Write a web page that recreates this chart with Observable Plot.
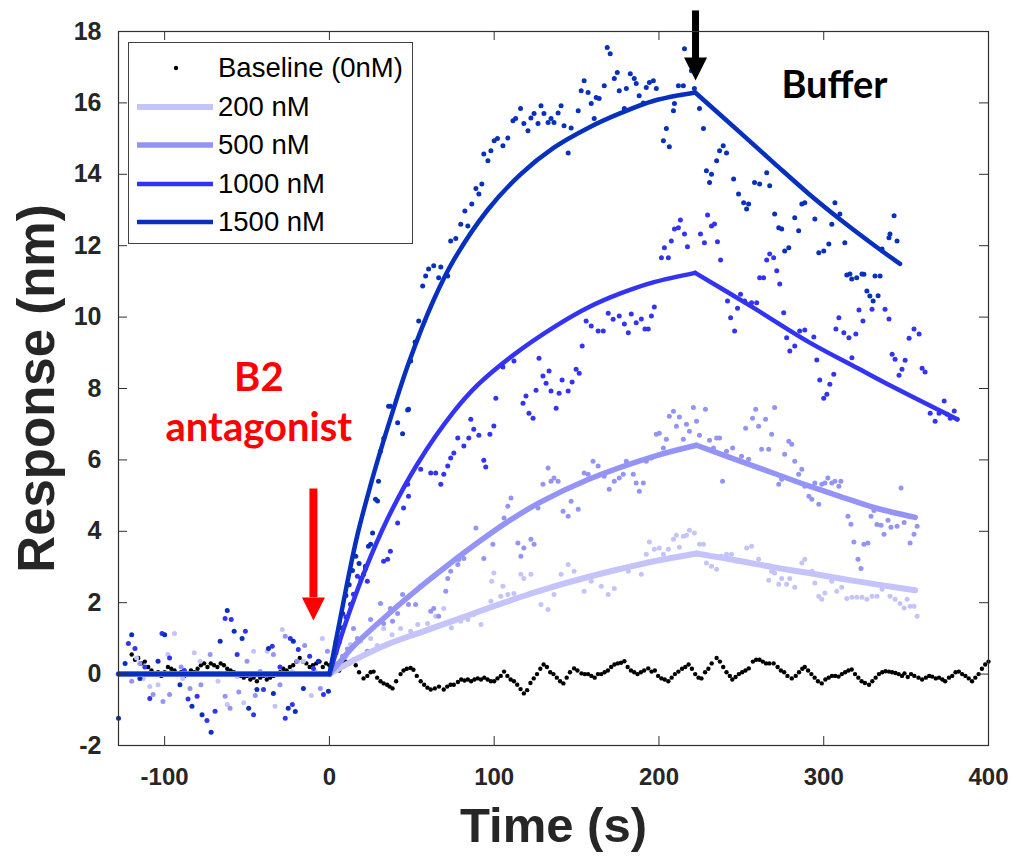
<!DOCTYPE html>
<html><head><meta charset="utf-8">
<script src="https://cdn.jsdelivr.net/npm/d3@7"></script>
<script src="https://cdn.jsdelivr.net/npm/@observablehq/plot@0.6"></script>
<style>
body{margin:0;background:#fff;}
#wrap{position:relative;width:1013px;height:858px;}
#legend{position:absolute;left:128px;top:42px;width:285px;height:202px;border:1px solid #404040;background:#fff;font-family:"Liberation Sans",Arial,sans-serif;font-size:27.5px;color:#000;box-sizing:border-box;}
.row{position:absolute;left:0;height:30px;display:flex;align-items:center;white-space:nowrap;}
.row span{position:absolute;left:89px;top:-1px;}
</style>
</head><body><div id="wrap"><div id="chart"></div><div id="legend"></div></div>
<script>
// ---- ticks ----
const xTicks = [-100, 0, 100, 200, 300, 400];
const yTicks = [-2, 0, 2, 4, 6, 8, 10, 12, 14, 16, 18];

// ---- series names / colours ----
const seriesNames = ["Baseline (0nM)", "200 nM", "500 nM", "1000 nM", "1500 nM"];
const seriesColors = ["#000000", "#c4c4fa", "#9494f6", "#3333f4", "#0630bd"];

// ---- baseline (0 nM) dots [t, response] ----
const dots0 = [[-120,0.55],[-118,0.4],[-116,0.45],[-114,0.3],[-112,0.35],[-110,0.2],[-108,0.1],[-106,0.0],[-104,0.05],[-102,-0.05],[-100,0.05],[-98,0.2],[-96,0.15],[-94,0.1],[-92,0.0],[-90,0.05],[-88,-0.05],[-86,0.0],[-84,0.1],[-82,0.05],[-80,0.15],[-78,0.25],[-76,0.3],[-74,0.2],[-72,0.3],[-70,0.25],[-68,0.2],[-66,0.3],[-64,0.25],[-62,0.15],[-60,0.1],[-58,0.05],[-56,0.0],[-54,-0.05],[-52,-0.1],[-50,-0.05],[-48,-0.15],[-46,-0.1],[-44,-0.2],[-42,-0.1],[-40,-0.05],[-38,-0.15],[-36,-0.1],[-34,-0.05],[-32,0.0],[-30,0.05],[-28,0.15],[-26,0.1],[-24,0.2],[-22,0.25],[-20,0.35],[-18,0.45],[-16,0.35],[-14,0.3],[-12,0.2],[-10,0.25],[-8,0.3],[-6,0.35],[-4,0.2],[-2,0.3],[0,0.25],[2,0.36],[4,0.2],[6,0.1],[8,0.3],[10,0.35],[12,0.3],[14.6,0.4],
[16,0.25],[18,0.05],[20.7,-0.12],[23,-0.05],[25,0.05],[26.8,0.07],[29,-0.1],[31,-0.2],[32.9,-0.26],[35,-0.3],[36.5,-0.35],[38.3,-0.4],[40.5,-0.2],[43.2,0.0],[45,0.1],[47,0.15],[49.3,0.17],[51,0.12],[53,-0.05],[55.4,-0.2],[57.5,-0.3],[59.5,-0.38],[61.5,-0.43],[64,-0.4],[66.5,-0.35],[69.4,-0.43],[71.5,-0.35],[73.5,-0.3],[75.5,-0.3],[78,-0.22],[80,-0.15],[82,-0.18],[84,-0.15],[86,-0.2],[88,-0.15],[90,-0.12],[92,-0.15],[94,-0.1],[96,-0.15],[98,-0.2],[100,-0.2],[102,-0.12],[104,-0.05],[106,0.07],[108,-0.05],[110,-0.15],[112,-0.2],[114,-0.3],[116,-0.42],[118,-0.54],[120,-0.45],[122,-0.25],[124,-0.12],[126,0.0],[128,0.15],[130,0.27],[132,0.2],[134,0.05],[136,0.0],[138,-0.1],[140,-0.2],[142,-0.26],[144,-0.1],[146,0.05],[148.5,0.16],[150.5,0.1],[153,0.02],[155,0.0],[157,0.0],[159,-0.05],[161,-0.1],[163,0.0],[165,0.0],[167,0.05],[169,0.1],[171,0.2],[173,0.27],[175,0.3],[177,0.32],[179,0.36],[181,0.2],[183,0.1],[185,0.05],[187,0.0],[189,0.05],[191,0.1],[193.5,0.16],[195.5,0.07],[197.5,0.1],[199.5,-0.05],[201.5,-0.12],[203.5,-0.15],[205.7,-0.2],[207.7,-0.1],[209.7,0.0],[211.8,0.07],[214,0.15],[216,0.2],[218,0.27],[220,0.15],[222,0.0],[224,-0.1],[225.8,-0.12],[228,0.05],[230,0.15],[232,0.3],[235,0.45],[237,0.35],[239,0.2],[241,0.05],[243,-0.05],[244.5,-0.15],[246.5,-0.08],[248.5,0.0],[250.5,0.05],[252.5,0.1],[254.5,0.16],[257,0.35],[259,0.4],[261,0.4],[263,0.35],[265,0.3],[267,0.3],[269.6,0.3],[272,0.2],[274,0.1],[276,0.05],[278,-0.05],[280.6,-0.12],[283,-0.05],[285,0.05],[287,0.15],[288.5,0.2],[290.5,0.1],[292.5,0.0],[294.5,-0.1],[296.5,-0.2],[298.8,-0.26],[301,-0.15],[303,-0.1],[305,-0.05],[307,-0.05],[309,-0.07],[311,0.0],[313,0.05],[315,0.1],[317,0.13],[319,0.0],[321,-0.1],[323,-0.2],[325,-0.25],[327.5,-0.3],[329.5,-0.2],[331.5,-0.1],[333.5,0.0],[335.5,0.05],[337.5,0.08],[339.6,0.07],[341.5,0.05],[343.5,0.03],[345.5,0.0],[347.5,-0.05],[349,0.02],[351,-0.08],[353,0.0],[355,-0.05],[357.5,-0.1],[359.7,-0.15],[362,-0.1],[364,-0.05],[365.8,-0.07],[368,-0.12],[370,-0.1],[372,-0.15],[373.7,-0.2],[376,-0.1],[378,-0.05],[380,0.05],[382,0.07],[384,0.0],[386,-0.05],[388,-0.12],[390,-0.2],[392,-0.1],[394,0.0],[396,0.15],[398,0.27],[400,0.35]];

// ---- 200 nM dots ----
const dots200 = [[-117,0.45],[-113,-0.12],[-109,-0.35],[-104,-0.3],[-98,0.55],[-94,1.14],[-89,-0.12],[-82,0.6],[-78.5,0.36],[-67.6,-0.2],[-62,-0.85],[-56,-0.07],[-52,-0.8],[-46,0.64],[-37.7,0.64],[-33,-0.9],[-28.6,1.25],[-22.5,0.07],[-15.8,0.36],[-11,-0.6],[-8.5,0.07],[-4.3,1.0],
[3,0.2],[6.7,0.36],[10,0.5],[12.8,0.83],[18.9,0.92],[25,1.0],[29,0.8],[32.9,1.28],[38,1.1],[43.2,1.28],[49.3,1.2],[53.6,1.39],[59.6,1.42],[64.5,1.62],[69.4,1.84],[74,1.3],[79.7,1.48],[84,1.53],[87.6,1.67],[92,1.39],[98,2.04],[98.5,2.6],[99.8,2.83],[104,2.18],[105.3,2.46],[108.3,2.23],[112,2.26],[116.2,2.8],[118,2.68],[122.3,2.8],[128.4,1.95],[132.7,1.81],[136.3,2.23],[140.6,2.8],[144.9,3.07],[148.5,2.88],[154.6,2.32],[158.9,2.6],[165,2.46],[169.2,2.23],[172.9,2.4],[181.4,2.88],[189.3,2.8],[192.3,3.36],[194.2,3.7],[197.2,3.5],[200.2,3.53],[202.7,3.36],[205.7,3.5],[208.8,3.78],[210.6,3.89],[212.4,3.55],[214.8,3.86],[216.7,3.89],[218.5,4.03],[221.5,3.95],
[224.6,3.64],[227,3.64],[228.8,3.11],[231.9,3.02],[235,2.94],[238,3.3],[241,3.36],[244,3.36],[247.1,3.16],[253.2,3.53],[256.2,3.58],[260.5,3.22],[266.6,2.63],[268.4,2.88],[270.2,2.83],[272.7,2.52],[274.5,2.68],[277.5,2.52],[279.4,2.68],[282.4,2.43],[286.7,3.11],[288.5,3.22],[292.8,2.88],[294.6,2.55],[297,2.18],[298.8,2.1],[300.7,2.27],[304.9,2.6],[307.9,2.32],[310.9,2.43],[314,2.12],[317.1,2.15],[320.1,2.15],[323.2,2.15],[326.2,2.1],[329.3,2.18],[332.3,2.18],[335.4,2.38],[340.2,2.18],[343.3,2.1],[346.3,1.98],[348.8,1.85],[350.6,2.1],[352.4,1.9],[354.8,1.9],[356.7,1.62]];

// ---- 500 nM dots ----
const dots500 = [[-120,-0.2],[-115,0.3],[-107,-0.57],[-101,-0.77],[-97,-0.57],[-90,0.2],[-84.6,-0.4],[-78,-0.3],[-72.4,0.55],[-63.3,-0.62],[-60.3,-0.96],[-55,-0.5],[-50,0.36],[-45,-0.6],[-42,0.07],[-34,0.55],[-30,-0.3],[-26.8,1.06],[-19.5,0.36],[-15,0.8],[-12.8,0],[-5.5,-0.4],[-1.2,0.64],
[2,0.1],[5,0.3],[8,0.5],[11,0.7],[14.6,1.28],[17,1.0],[23,0.64],[25,1.53],[31,1.98],[32.9,1.42],[37,1.84],[38.3,1.48],[41.4,1.7],[44.4,2.23],[48,1.95],[52.3,1.95],[55.4,2.46],[61.5,1.76],[63.3,1.84],[66.3,1.62],[70.6,2.32],[71.8,2.68],[73.6,2.88],[77.9,3.07],[78.5,3.21],[81.6,3.24],[88.9,4.09],[93.7,3.24],[99.2,3.64],[106,4.37],[108.3,4.7],[110.2,4.93],[114.4,3.67],[116.2,3.3],[118,3.53],[122.3,3.78],[124.2,3.64],[126.6,4.65],[129.6,5.32],[132.7,5.77],[134.5,5.4],[136.3,5.49],[138.8,5.4],[141.8,4.56],[144.9,4.42],[146.7,4.84],[151,4.62],[154.6,5.63],[157,5.6],[160,5.96],[163.1,5.83],[166.8,5.54],[169.8,5.18],[172.9,5.4],[175.9,5.49],[178.3,5.6],[180.2,5.96],[184.4,5.6],[186.2,5.35],[188.1,5.12],[190.5,5.35],[192.3,5.96],[195.4,6.05],[198.4,6.72],[200.2,6.75],[202.7,6.33],[204.5,6.58],[206.3,7.22],[208.8,7.36],[210.6,6.94],[212.4,7.2],[214.8,6.58],[216.7,7.0],[218.5,6.8],[220.9,7.47],
[222.8,7.08],[224.6,6.69],[228.2,7.42],[230.7,6.55],[233.1,6.33],[235,6.61],[236.8,6.61],[238.6,5.4],[241,6.24],[244.7,6.33],[250.1,6.1],[252.6,6.89],[254.4,6.02],[256.8,7.17],[258.7,7.42],[260.5,6.94],[262.3,6.3],[264.7,7.14],[266.6,6.3],[268.4,6.72],[270.2,7.47],[272.7,5.32],[274.5,5.46],[276.3,6.16],[278.8,6.52],[280.6,6.44],[282.4,5.96],[284.8,5.6],[286.7,5.74],[288.5,5.26],[291,4.98],[292.8,4.9],[294.6,5.35],[297,4.76],[298.8,5.32],[300.7,5.35],[302.5,5.49],[304.9,5.35],[306.8,5.4],[309.2,5.26],[310.4,5.4],[314.7,4.42],[316.5,4.2],[318.3,3.7],[320.8,3.22],[322.6,2.96],[324.4,3.64],[326.8,3.67],[328.7,4.42],[330.5,4.58],[332.3,4.19],[334.8,4.17],[336.6,3.92],[339,4.31],[340.8,4.11],[344.5,4.14],[346.9,5.21],[348.8,4.25],[352.4,3.67],[354.8,3.92],[356.7,4.14]];

// ---- 1000 nM dots ----
const dots1000 = [[-122,0.86],[-118,0.72],[-112,0.2],[-109,-0.68],[-101.6,1.14],[-97,0.45],[-88,0.1],[-85.8,-0.7],[-80.3,-0.62],[-74.3,-1.3],[-69.4,-1.04],[-63.3,1.56],[-59.6,1.53],[-56,0.55],[-51,1.2],[-46,-1.14],[-40,-0.43],[-34.7,0.78],[-30,0.2],[-26.8,-1.24],[-23.7,1.0],[-22.5,-0.85],[-18.9,0.69],[-12,0.5],[-9.7,0.16],[-3.6,-0.57],
[2,0.3],[4,0.6],[6,0.9],[8,1.3],[10,1.6],[12.8,1.96],[14.6,2.24],[17,2.74],[19,2.68],[21.9,2.96],[23,2.6],[32.9,3.16],[35.3,3.22],[37,3.44],[41.4,4.23],[45,4.65],[47.5,5.32],[48,4.98],[55.4,5.74],[61.5,5.63],[64.5,5.63],[67.6,5.32],[69.4,5.6],[71.8,5.83],[73.6,6.05],[75.5,6.19],[77.9,6.61],[81.6,6.39],[84.6,6.61],[85.8,7.14],[87.6,6.86],[90.7,6.69],[93.7,5.99],[94.9,5.8],[97.4,6.72],[99.8,6.95],[101,7.73],[105.3,8.6],[112,8.77],[117.5,7.59],[119.3,7.79],[121.1,7.31],[123.6,7.17],[125.4,7.95],[127.2,8.85],[129.6,8.35],[131.5,8.15],[133.3,8.49],[134.5,7.93],[137.6,7.45],[139.4,7.87],[141.2,8.24],[144.9,7.93],[147.3,8.18],[149.7,8.54],[151.6,8.43],[153.4,9.19],[155.8,9.89],[158.9,9.75],[163.1,9.61],[166.2,9.61],[169.2,10.11],[172.2,9.94],[175.9,10.03],[179,9.81],[181.4,9.56],[183.2,10.09],[186.2,9.84],[189.3,9.95],[191.5,9.67],[193.5,9.67],[195.4,10.03],[197.2,10.28],[201.5,11.66],[203.3,11.94],[205.7,11.66],[207.5,12.13],[209.4,12.47],[211.8,12.5],[213,12.72],[215.5,12.33],[217.3,11.97],
[225.2,12.33],[227.6,12.08],[229.5,12.86],[231.9,12.55],[233.7,12.61],[235.5,12.11],[237.4,11.6],[241.6,10.45],[243.5,9.98],[245.9,9.61],[247.7,10.25],[249.5,10.64],[252,10.45],[256.2,10.4],[259.3,10.4],[261.1,11.1],[263.5,11.1],[265.4,11.6],[267.2,11.77],[269.6,11.66],[271.5,11.3],[273.3,10.93],[275.7,10.12],[277.5,9.42],[279.4,9.05],[282.4,9.19],[285.4,9.61],[288.5,9.64],[294,9.44],[295.8,8.8],[297.6,8.24],[300,7.73],[301.9,7.84],[303.7,8.12],[306.1,8.4],[307.4,9.67],[309.2,9.98],[312.2,9.56],[315.3,9.42],[317.1,8.86],[319.5,9.53],[321.4,10.2],[323.8,9.89],[329.3,10.22],[337.2,10.22],[339.6,9.95],[341.5,8.96],[343.3,8.82],[345.7,8.37],[347.5,8.54],[349.4,8.79],[351.8,9.41],[354.8,9.67],[357.9,9.53],[359.7,8.57],[361.5,8.46],[364.6,7.31],[367.6,7.08],[370,7.31],[373.1,7.65],[374.9,7.28],[376.8,7.17],[379.2,7.37],[381,7.14]];

// ---- 1500 nM dots ----
const dots1500 = [[-128,-1.24],[-124,0.3],[-120,1.1],[-115,-0.12],[-104,0.36],[-100,1.1],[-90.7,-0.3],[-83.4,-0.9],[-77.3,-1.14],[-71.8,-1.63],[-66.3,0.92],[-62,1.78],[-57.8,1.2],[-53,1.0],[-49,-0.96],[-44,-0.43],[-37,0.72],[-34,-0.54],[-25,-0.96],[-21.9,0.92],[-20.7,-1.05],[-15.8,-0.4],[-6.7,0.36],[-0.6,-0.48],
[2,0.4],[4,0.9],[6,1.3],[8,1.7],[10,2.2],[12,2.5],[14,2.9],[16,3.3],[18,3.1],[20.7,2.8],[21.9,3.02],[23.7,3.58],[25,3.64],[26.2,3.95],[28,4.9],[29.2,4.85],[29.8,5.4],[31,6.24],[33,6.6],[35.9,7.5],[37,7.5],[41.4,7.04],[44.4,6.73],[47.5,7.4],[48,7.42],[49.3,8.77],[52,9.3],[54.2,9.89],[56.6,10.87],[58.4,11.15],[60.2,11.35],[63.3,11.44],[66.3,11.1],[67.6,11.4],[71.8,11.15],[73.6,12.13],[76.7,12.2],[79.7,12.6],[82.2,12.97],[84,12.55],[86.4,13.17],[88.9,13.6],[90.7,13.45],[92.5,13.73],[93.7,14.57],[96.2,14.38],[98,14.66],[100,14.94],[102,15.0],[105.3,14.8],[108.3,15.02],[111.4,15.5],[113,15.56],[116,15.84],[118,15.42],[120.5,15.22],[122.3,15.58],[124.2,15.7],[126.6,15.42],[128.4,15.92],[130.2,15.7],[132.7,15.45],[134.5,15.56],[136.3,15.45],[138.8,15.72],[140.6,15.92],[142.4,15.36],[144.9,14.6],[146.7,15.3],[151,15.78],[152.8,16.34],[154.6,16.62],[157,16.29],[158.9,15.98],[160.7,15.56],[161.9,16.15],[163.7,16.12],[166.8,16.48],[168.6,17.55],[170.4,17.38],[172.9,16.68],[174.7,16.85],[175.9,16.34],[179,15.84],[180.2,16.4],[182.6,16.82],[185,16.68],[186.2,16.54],[188,16.2],[190.5,16.0],[192.3,16.43],[194.2,16.57],[196.6,16.62],[198.4,16.4],[202.7,14.94],[204.5,15.28],[206.3,14.77],[208.8,15.78],[209.4,15.98],[211.8,16.48],[214.8,16.48],[215.5,17.52],[219.7,16.9],[221.5,16.4],
[224.6,15.84],[227,15.28],[228.8,14.1],[230.7,13.77],[231.9,14.0],[235,14.38],[236.8,14.66],[239,14.8],[241,14.6],[245.3,13.87],[248.3,13.45],[251.4,13.2],[253.2,13.03],[254.4,13.17],[258,13.77],[261.1,13.73],[265.4,14.04],[267.2,13.68],[270.2,12.89],[272.7,12.5],[274.5,12.47],[276.3,11.85],[278.8,11.94],[282.4,12.78],[284.8,12.42],[286.7,13.17],[288.5,13.2],[294.6,12.75],[297,11.8],[300,11.85],[303.1,12.05],[304.9,12.6],[306.8,13.2],[309.8,12.89],[312.8,12.08],[314,11.18],[315.9,11.21],[317,11.07],[320,11.1],[323.2,11.21],[324.4,11.2],[326.2,10.73],[328,10.59],[330,10.45],[331.1,11.15],[333,10.6],[334.2,11.15],[335.4,11.91],[339.6,12.22],[340.2,12.33],[342.7,12.84],[344.5,12.13]];

// ---- fitted curves [t, response] ----
const fitPre = [[-128,0],[0,0]];
const fit200Assoc = [[0,0],[14.6,0.38],[35,0.83],[55.4,1.17],[75.5,1.5],[96,1.84],[116,2.16],[136,2.45],[157,2.72],[177,2.95],[197,3.16],[222.8,3.38]];
const fit200Diss = [[222.8,3.38],[250,3.16],[270,2.99],[291,2.83],[311,2.67],[331,2.52],[355.5,2.35]];
const fit500Assoc = [[0,0],[6.7,0.36],[14.6,0.78],[35,1.65],[55.4,2.45],[71.8,3.05],[87.6,3.6],[106,4.2],[126.6,4.78],[157,5.45],[197,6.1],[222.8,6.41]];
const fit500Diss = [[222.8,6.41],[240,6.12],[270,5.62],[291,5.27],[311,4.96],[331,4.66],[355.5,4.39]];
const fit1000Assoc = [[0,0],[10,1.45],[20.7,2.8],[35.3,4.35],[53.6,5.9],[75.5,7.35],[90,8.1],[112,8.95],[136.3,9.72],[157,10.27],[177,10.67],[197,10.98],[222,11.24]];
const fit1000Diss = [[222,11.24],[256,10.3],[291,9.3],[321,8.56],[341,8.07],[381,7.14]];
const fit1500Assoc = [[0,0],[5.5,1.3],[11,2.6],[17,3.9],[25,5.3],[30,6.1],[37,7.15],[48,8.7],[63,10.45],[75.5,11.6],[96,13.0],[116,14.0],[136,14.74],[157,15.3],[177,15.72],[197,16.06],[222,16.29]];
const fit1500Diss = [[222,16.29],[250,15.14],[270.2,14.3],[291,13.45],[311,12.7],[331,12.0],[346.3,11.49]];

// ---- annotations ----
const redArrow = {x: -9.7, yTop: 5.2, yHead: 2.15, yTip: 1.5};
const blackArrow = {x: 222.2, yTop: 18.59, yHead: 17.24, yTip: 16.63};
const redLabels = [{x: -42.8, y: 8.29, text: "B2"}, {x: -42.8, y: 6.89, text: "antagonist"}];
const bufferLabel = [{x: 306.5, y: 16.48, text: "Buffer"}];

// ---------- build ----------
const toObj = (arr, s) => arr.map(([t, v]) => ({t, v, s}));
const dotSets = [
  {data: toObj(dots0, 0), r: 2.2},
  {data: toObj(dots200, 1), r: 2.5},
  {data: toObj(dots500, 2), r: 2.5},
  {data: toObj(dots1000, 3), r: 2.5},
  {data: toObj(dots1500, 4), r: 2.5}
];
const fits = [
  {i: 1, w: 6, segs: [fitPre, fit200Assoc, fit200Diss]},
  {i: 2, w: 5.5, segs: [fitPre, fit500Assoc, fit500Diss]},
  {i: 3, w: 4.5, segs: [fitPre, fit1000Assoc, fit1000Diss]},
  {i: 4, w: 4.5, segs: [fitPre, fit1500Assoc, fit1500Diss]}
];

const headSymbol = {
  draw(context, size) {
    const r = Math.sqrt(size / Math.PI);
    context.moveTo(0, 0);
    context.lineTo(-r, -2 * r);
    context.lineTo(r, -2 * r);
    context.closePath();
  }
};

const FONT = "'Liberation Sans', Arial, sans-serif";
const marks = [];
for (const d of dotSets) {
  marks.push(Plot.dot(d.data, {x: "t", y: "v", r: d.r, fill: seriesColors[d.data[0].s], stroke: "none"}));
}
for (const f of fits) {
  f.segs.forEach((seg, k) => {
    marks.push(Plot.line(toObj(seg, f.i), {x: "t", y: "v", stroke: seriesColors[f.i], strokeWidth: f.w, curve: k === 0 ? "linear" : "catmull-rom", strokeLinejoin: "round", strokeLinecap: "round"}));
  });
}
// arrows
for (const [a, col, w] of [[redArrow, "#ff0000", 8], [blackArrow, "#000000", 7]]) {
  marks.push(Plot.link([a], {x1: "x", x2: "x", y1: "yTop", y2: "yHead", stroke: col, strokeWidth: w}));
  marks.push(Plot.dot([a], {x: "x", y: "yTip", symbol: headSymbol, r: 11.5, fill: col, stroke: "none"}));
}
marks.push(Plot.text(redLabels, {x: "x", y: "y", text: "text", fill: "#ff0000", fontSize: 40, fontWeight: "bold", fontFamily: "Lato, 'Open Sans', sans-serif", lineAnchor: "middle"}));
marks.push(Plot.text(bufferLabel, {x: "x", y: "y", text: "text", fill: "#000", fontSize: 38, fontWeight: "bold", fontFamily: "Lato, 'Open Sans', sans-serif", lineAnchor: "middle"}));

// frame and inward ticks
marks.push(Plot.frame({stroke: "#303030", strokeWidth: 1.2}));
marks.push(Plot.tickX(xTicks, {x: d => d, insetTop: 705, stroke: "#303030"}));
marks.push(Plot.tickX(xTicks, {x: d => d, insetBottom: 705, stroke: "#303030"}));
marks.push(Plot.tickY(yTicks, {y: d => d, insetRight: 861, stroke: "#303030"}));
marks.push(Plot.tickY(yTicks, {y: d => d, insetLeft: 861, stroke: "#303030"}));
// tick labels
marks.push(Plot.axisX(xTicks, {anchor: "bottom", tickSize: 0, tickPadding: 22, fontSize: 24, fontWeight: "bold", fill: "#262626", label: null, tickFormat: d => String(d)}));
marks.push(Plot.axisY(yTicks, {anchor: "left", tickSize: 0, tickPadding: 17, fontSize: 25, fontWeight: "bold", fill: "#262626", label: null, tickFormat: d => String(d)}));
// axis titles
marks.push(Plot.text(["Time (s)"], {frameAnchor: "bottom", dy: 81, fontSize: 49, fontWeight: "bold", fill: "#262626", lineAnchor: "middle", textAnchor: "middle"}));
marks.push(Plot.text(["Response (nm)"], {frameAnchor: "left", dx: -81, rotate: -90, fontSize: 51, fontWeight: "bold", fill: "#262626", lineAnchor: "middle", textAnchor: "middle"}));

const chart = Plot.plot({
  width: 1013, height: 858,
  marginLeft: 118, marginRight: 25, marginTop: 31, marginBottom: 113,
  x: {domain: [-128, 400]},
  y: {domain: [-2, 18]},
  style: {fontFamily: FONT, background: "#fff", overflow: "visible"},
  marks
});
document.getElementById("chart").appendChild(chart);

// legend
const legend = document.getElementById("legend");
const rowTops = [25, 63.5, 102, 140.5, 179];
seriesNames.forEach((name, i) => {
  const row = document.createElement("div");
  row.className = "row";
  row.style.top = (rowTops[i] - 15) + "px";
  row.style.width = "282px";
  const sw = i === 0
    ? `<svg width="84" height="30" style="position:absolute;left:0;top:0"><circle cx="47" cy="15" r="2.2" fill="#000"/></svg>`
    : `<svg width="84" height="30" style="position:absolute;left:0;top:0"><line x1="8" x2="84" y1="15" y2="15" stroke="${seriesColors[i]}" stroke-width="${fits[i-1].w}"/></svg>`;
  row.innerHTML = sw + `<span>${name}</span>`;
  legend.appendChild(row);
});
</script>
</body></html>
